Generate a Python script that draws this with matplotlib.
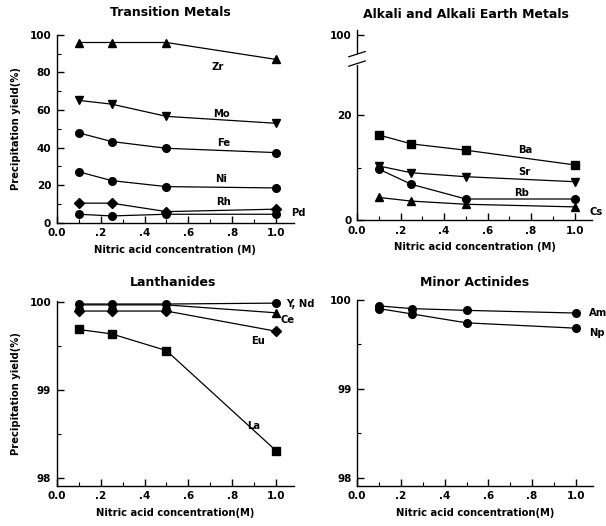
import matplotlib
matplotlib.use("Agg")
import matplotlib.pyplot as plt
from matplotlib.ticker import MultipleLocator, FixedLocator, FuncFormatter

plt.rcParams['font.family'] = ['DejaVu Sans']
plt.rcParams['font.weight'] = 'bold'

# ---------------- data ----------------
conc = [0.1, 0.25, 0.5, 1.0]

# Transition metals
tm_names = ["Zr", "Mo", "Fe", "Ni", "Rh", "Pd"]
tm_Zr = [95.9, 95.9, 95.9, 86.9]
tm_Mo = [65.1, 63.1, 56.6, 52.9]
tm_Fe = [47.8, 43.2, 39.6, 37.3]
tm_Ni = [27.1, 22.4, 19.2, 18.5]
tm_Rh = [10.4, 10.4, 5.9, 7.2]
tm_Pd = [4.5, 3.6, 4.5, 4.5]

# Alkali and alkali earth metals
ak_names = ["Ba", "Sr", "Rb", "Cs"]
ak_Ba = [16.2, 14.5, 13.3, 10.5]
ak_Sr = [10.3, 9.0, 8.25, 7.3]
ak_Rb = [9.7, 6.8, 4.0, 4.0]
ak_Cs = [4.3, 3.6, 3.0, 2.5]

# Lanthanides
ln_names = ["Y, Nd", "Ce", "Eu", "La"]
ln_YNd = [99.98, 99.98, 99.98, 99.99]
ln_Ce = [99.97, 99.97, 99.97, 99.88]
ln_Eu = [99.90, 99.90, 99.90, 99.67]
ln_La = [99.69, 99.64, 99.45, 98.31]

# Minor actinides
ma_names = ["Am", "Np"]
ma_Am = [99.93, 99.90, 99.88, 99.85]
ma_Np = [99.90, 99.84, 99.74, 99.68]

titles = ["Transition Metals", "Alkali and Alkali Earth Metals", "Lanthanides", "Minor Actinides"]
xtick_vals = [0.0, 0.2, 0.4, 0.6, 0.8, 1.0]
xtick_labels = ["0.0", ".2", ".4", ".6", ".8", "1.0"]

# ---------------- figure ----------------
fig = plt.figure(figsize=(6.06, 5.26), dpi=100)
W, H = 606, 526

def mkax(left, bottom_px, right, top_px):
    return fig.add_axes([left / W, (H - bottom_px) / H, (right - left) / W, (bottom_px - top_px) / H])

ax1 = mkax(56.8, 222.7, 293.6, 34.8)
ax2 = mkax(357.0, 220.0, 592.0, 30.0)
ax3 = mkax(56.8, 485.7, 293.6, 300.5)
ax4 = mkax(357.2, 485.7, 593.3, 299.7)

LW = 0.9
MS = 5.5
TICKFS = 7.5
LABFS = 7.2
SERFS = 7.2
TITLEFS = 9.0

def style(ax, xlabel, ylabel=None):
    for s in ("top", "right"):
        ax.spines[s].set_visible(False)
    for s in ("left", "bottom"):
        ax.spines[s].set_linewidth(1.0)
    ax.set_xlim(0, 1.08)
    ax.xaxis.set_major_locator(FixedLocator(xtick_vals))
    ax.set_xticklabels(xtick_labels)
    ax.xaxis.set_minor_locator(MultipleLocator(0.1))
    ax.tick_params(axis="both", which="major", direction="in", length=5, width=1.0,
                   labelsize=TICKFS, pad=4)
    ax.tick_params(axis="both", which="minor", direction="in", length=3, width=0.8)
    for lab in ax.get_xticklabels() + ax.get_yticklabels():
        lab.set_fontweight("bold")
    ax.set_xlabel(xlabel, fontsize=LABFS, fontweight="bold", labelpad=5)
    if ylabel:
        ax.set_ylabel(ylabel, fontsize=LABFS, fontweight="bold", labelpad=6)

def series(ax, y, marker, ms=MS):
    ax.plot(conc, y, color="black", lw=LW, marker=marker, ms=ms,
            markerfacecolor="black", markeredgecolor="black", clip_on=False)

def label(ax, x, y, txt, ha="center"):
    ax.text(x, y, txt, fontsize=SERFS, fontweight="bold", ha=ha, va="center", clip_on=False)

def title(xpx, ypx, txt):
    fig.text(xpx / W, 1 - ypx / H, txt, fontsize=TITLEFS, fontweight="bold", ha="center", va="center")

# --- Transition metals ---
series(ax1, tm_Zr, "^")
series(ax1, tm_Mo, "v")
series(ax1, tm_Fe, "o")
series(ax1, tm_Ni, "o")
series(ax1, tm_Rh, "D", 5)
series(ax1, tm_Pd, "o")
ax1.set_ylim(0, 100)
ax1.yaxis.set_major_locator(MultipleLocator(20))
ax1.yaxis.set_minor_locator(MultipleLocator(10))
style(ax1, "Nitric acid concentration (M)", "Precipitation yield(%)")
title(170, 13, titles[0])
label(ax1, 0.735, 83, tm_names[0])
label(ax1, 0.75, 58, tm_names[1])
label(ax1, 0.76, 42.3, tm_names[2])
label(ax1, 0.75, 23, tm_names[3])
label(ax1, 0.76, 11, tm_names[4])
label(ax1, 1.07, 5.4, tm_names[5], ha="left")

# --- Alkali & alkali earth ---
series(ax2, ak_Ba, "s")
series(ax2, ak_Sr, "v")
series(ax2, ak_Rb, "o")
series(ax2, ak_Cs, "^")
ax2.set_ylim(0, 36.2)
ax2.yaxis.set_major_locator(FixedLocator([0, 20, 35.2]))
ax2.yaxis.set_major_formatter(FuncFormatter(lambda v, p: {0: "0", 20: "20"}.get(round(v, 1), "100")))
ax2.yaxis.set_minor_locator(FixedLocator([10]))
style(ax2, "Nitric acid concentration (M)")
title(466, 14, titles[1])
label(ax2, 0.771, 13.3, ak_names[0])
label(ax2, 0.771, 9.2, ak_names[1])
label(ax2, 0.755, 5.1, ak_names[2])
label(ax2, 1.07, 1.6, ak_names[3], ha="left")
# axis break marks
trans = ax2.get_yaxis_transform()
ax2.add_patch(plt.Rectangle((-0.03, 29.8), 0.06, 1.8, transform=trans, color="white",
                            clip_on=False, zorder=5))
for yb in (29.8, 31.6):
    ax2.plot([-0.035, 0.035], [yb - 0.5, yb + 0.5], transform=trans, color="black",
             lw=0.9, clip_on=False, zorder=6)

# --- Lanthanides ---
series(ax3, ln_YNd, "o")
series(ax3, ln_Ce, "^")
series(ax3, ln_Eu, "D", 5)
series(ax3, ln_La, "s")
ax3.set_ylim(97.912, 100.02)
ax3.yaxis.set_major_locator(FixedLocator([98, 99, 100]))
ax3.yaxis.set_minor_locator(FixedLocator([98.5, 99.5]))
ax3.yaxis.set_major_formatter(FuncFormatter(lambda v, p: "%d" % round(v)))
style(ax3, "Nitric acid concentration(M)", "Precipitation yield(%)")
title(173, 283, titles[2])
label(ax3, 1.045, 99.98, ln_names[0], ha="left")
label(ax3, 1.02, 99.80, ln_names[1], ha="left")
label(ax3, 0.92, 99.56, ln_names[2])
label(ax3, 0.9, 98.59, ln_names[3])

# --- Minor actinides ---
series(ax4, ma_Am, "o")
series(ax4, ma_Np, "o")
ax4.set_ylim(97.91, 100.0)
ax4.yaxis.set_major_locator(FixedLocator([98, 99, 100]))
ax4.yaxis.set_minor_locator(FixedLocator([98.5, 99.5]))
ax4.yaxis.set_major_formatter(FuncFormatter(lambda v, p: "%d" % round(v)))
style(ax4, "Nitric acid concentration(M)")
title(475, 283, titles[3])
label(ax4, 1.06, 99.85, ma_names[0], ha="left")
label(ax4, 1.06, 99.63, ma_names[1], ha="left")

fig.savefig("out.png", dpi=100)
